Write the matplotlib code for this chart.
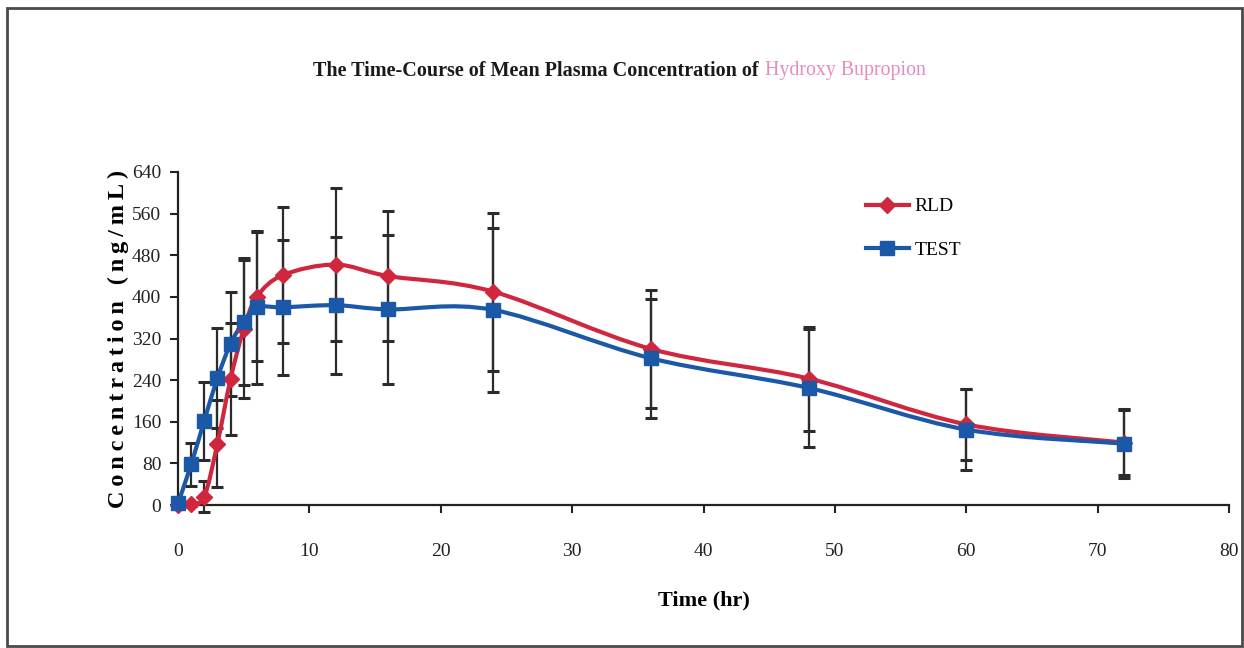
import matplotlib
matplotlib.use("Agg")
import matplotlib.pyplot as plt
import numpy as np
from matplotlib.path import Path
from matplotlib.patches import PathPatch, Rectangle
from matplotlib.lines import Line2D

plt.rcParams['font.family'] = ['Liberation Serif', 'DejaVu Serif']

# sampling times (hr)
time_rld = [0, 1, 2, 3, 4, 5, 6, 8, 12, 16, 24, 36, 48, 60, 72]
time_test = [0, 1, 2, 3, 4, 5, 6, 8, 12, 16, 24, 36, 48, 60, 72]

# mean plasma concentration (ng/mL) and SD
conc_rld = [0, 2, 16, 118, 242, 338, 400, 442, 462, 440, 410, 300, 243, 155, 120]
sd_rld = [0, 4, 30, 83, 107, 133, 124, 130, 147, 125, 152, 113, 100, 68, 62]
conc_test = [3, 78, 162, 244, 310, 352, 380, 380, 384, 376, 375, 282, 225, 145, 118]
sd_test = [0, 42, 75, 96, 100, 122, 147, 130, 132, 143, 157, 114, 113, 77, 66]

x_ticks = [0, 10, 20, 30, 40, 50, 60, 70, 80]
y_ticks = [0, 80, 160, 240, 320, 400, 480, 560, 640]

red = '#d0263e'
blue = '#1c58a8'


def smoothPath(x, y):
    # cubic bezier through the points, like a spreadsheet "smoothed line"
    x = np.asarray(x, float)
    y = np.asarray(y, float)
    verts = [(x[0], y[0])]
    codes = [Path.MOVETO]
    n = len(x)
    for i in range(n - 1):
        x0, y0 = (x[i - 1], y[i - 1]) if i > 0 else (x[i], y[i])
        x3, y3 = (x[i + 2], y[i + 2]) if i + 2 < n else (x[i + 1], y[i + 1])
        c1 = (x[i] + (x[i + 1] - x0) / 6, y[i] + (y[i + 1] - y0) / 6)
        c2 = (x[i + 1] - (x3 - x[i]) / 6, y[i + 1] - (y3 - y[i]) / 6)
        verts += [c1, c2, (x[i + 1], y[i + 1])]
        codes += [Path.CURVE4] * 3
    return Path(verts, codes)


fig = plt.figure(figsize=(12.44, 6.48), dpi=100)
ax = fig.add_axes([178 / 1244, 1 - 505 / 648, 1051 / 1244, 333 / 648])

# error bars
ax.errorbar(time_rld, conc_rld, yerr=sd_rld, fmt='none', ecolor='#2b2b2b',
            elinewidth=1.6, capsize=4.5, capthick=2.2, zorder=2, clip_on=False)
ax.errorbar(time_test, conc_test, yerr=sd_test, fmt='none', ecolor='#2b2b2b',
            elinewidth=1.6, capsize=4.5, capthick=2.2, zorder=2, clip_on=False)

# smoothed curves
ax.add_patch(PathPatch(smoothPath(time_rld, conc_rld), fill=False, edgecolor=red,
                       lw=3.0, zorder=3, clip_on=False))
ax.add_patch(PathPatch(smoothPath(time_test, conc_test), fill=False, edgecolor=blue,
                       lw=3.0, zorder=4, clip_on=False))

# markers
ax.plot(time_rld, conc_rld, linestyle='none', marker='D', markersize=8,
        color=red, zorder=5, clip_on=False)
ax.plot(time_test, conc_test, linestyle='none', marker='s', markersize=10.5,
        color=blue, zorder=6, clip_on=False)

ax.set_xlim(0, 80)
ax.set_ylim(0, 640)
ax.set_xticks(x_ticks)
ax.set_yticks(y_ticks)
ax.tick_params(axis='x', direction='out', length=6, width=1.5, pad=21,
               labelsize=14, colors='#222222')
ax.tick_params(axis='y', direction='out', length=6, width=1.5, pad=6,
               labelsize=14, colors='#222222')
for side in ['top', 'right']:
    ax.spines[side].set_visible(False)
for side in ['left', 'bottom']:
    ax.spines[side].set_linewidth(1.6)
    ax.spines[side].set_color('#222222')

ax.set_xlabel('Time (hr)', fontsize=16, fontweight='bold', labelpad=22)
ax.set_ylabel('\u2009'.join('Concentration (ng/mL)'), fontsize=17.5,
              fontweight='bold', labelpad=2)

handles = [
    Line2D([], [], color=red, lw=3, marker='D', markersize=8),
    Line2D([], [], color=blue, lw=3, marker='s', markersize=10),
]
ax.legend(handles, ['RLD', 'TEST'], loc='upper left', bbox_to_anchor=(0.638, 0.975),
          frameon=False, fontsize=14, handlelength=2.2, handletextpad=0.3,
          labelspacing=1.35)

# title in two colours
fig.text(313 / 1244, 1 - 71 / 648, 'The Time-Course of Mean Plasma Concentration of',
         ha='left', va='center', fontsize=14.5, fontweight='bold', color='#1a1a1a')
fig.text(765 / 1244, 1 - 71 / 648, 'Hydroxy Bupropion', ha='left', va='center',
         fontsize=14.3, color='#e48cc0')

# outer frame
fig.patches.append(Rectangle((7 / 1244, 2 / 648), 1235 / 1244, 638 / 648,
                             transform=fig.transFigure, fill=False,
                             edgecolor='#4a4a4a', lw=2))

fig.savefig('out.png', dpi=100)
